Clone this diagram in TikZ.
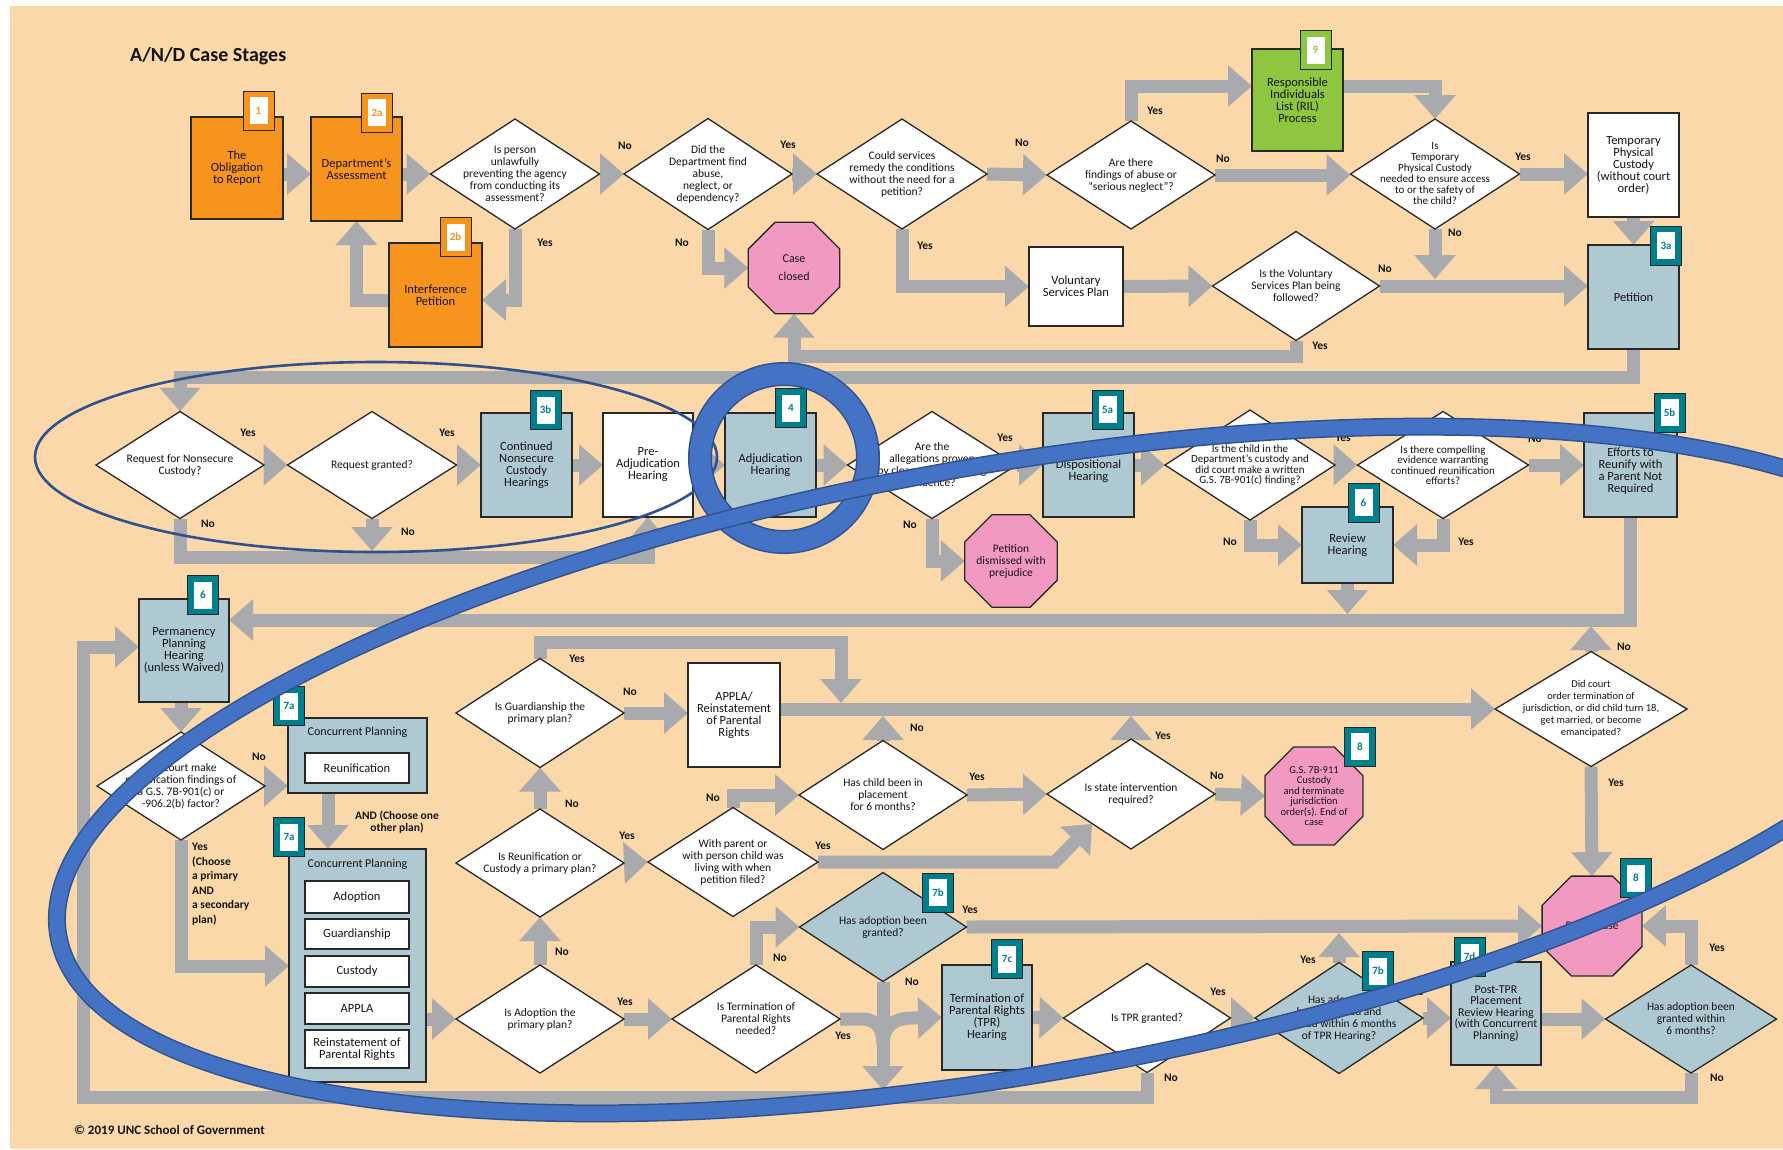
\documentclass[tikz,border=0pt]{standalone}
\usepackage{fontspec}
\setmainfont{Carlito}
\usetikzlibrary{shapes.geometric,arrows.meta}

\definecolor{beige}{RGB}{250,216,170}
\definecolor{pipegray}{RGB}{168,170,173}
\definecolor{orng}{RGB}{247,148,30}
\definecolor{grn}{RGB}{141,198,63}
\definecolor{bgray}{RGB}{175,201,211}
\definecolor{pnk}{RGB}{241,153,193}
\definecolor{tealtag}{RGB}{0,128,140}
\definecolor{ovblue}{RGB}{68,114,196}
\definecolor{ovdark}{RGB}{47,82,143}
\definecolor{edge}{RGB}{40,40,40}
\definecolor{ink}{RGB}{20,20,20}

\pgfdeclarelayer{back}
\pgfdeclarelayer{pipes}
\pgfdeclarelayer{front}
\pgfsetlayers{back,pipes,main,front}

\tikzset{
  box/.style={draw=edge, line width=1.3pt, inner sep=0pt, outer sep=0pt, align=center,
    text=ink, font=\fontsize{12.5}{12}\selectfont},
  dmd/.style={diamond, draw=edge, line width=1.3pt, inner sep=0pt, outer sep=0pt},
  dtext/.style={align=center, inner sep=0pt, text=ink, font=\fontsize{11.5}{12}\selectfont},
  oct/.style={regular polygon, regular polygon sides=8, draw=edge, line width=1.3pt,
    fill=pnk, inner sep=0pt, outer sep=0pt},
  tagbox/.style={draw=edge, line width=1pt, minimum width=31pt, minimum height=39pt, inner sep=0pt},
  tagin/.style={fill=white, minimum width=18pt, minimum height=27pt, inner sep=0pt,
    font=\bfseries\fontsize{11}{11}\selectfont},
  lbl/.style={inner sep=0pt, text=ink, font=\bfseries\fontsize{11.5}{12}\selectfont},
  pipe/.style={draw=pipegray, line width=13pt},
  flow/.style={pipe, -{Triangle[width=40pt,length=24pt]}},
}

% rectangle: [opts]{name}{x}{y}{w}{h}{fill}{text}
\newcommand{\Bx}[8][]{\node[box,fill=#7,minimum width=#5pt,minimum height=#6pt,#1] (#2) at (#3,#4) {#8};}
% decision: [opts]{name}{x}{y}{w}{h}{fill}{text}
\newcommand{\Dm}[8][]{%
  \node[dmd,fill=#7,minimum width=#5pt,minimum height=#6pt] (#2) at (#3,#4) {};
  \node[dtext,#1] (#2t) at (#2.center) {#8};}
% stop sign: [opts]{name}{x}{y}{size}{text}
\newcommand{\Oc}[6][]{%
  \node[oct,minimum size=#5pt] (#2) at (#3,#4) {};
  \node[dtext,#1] (#2t) at (#2.center) {#6};}
% chapter tag: {name}{x}{y}{colour}{number}
\newcommand{\Tg}[5]{%
  \node[tagbox,fill=#4] (#1) at (#2,#3) {};
  \node[tagin,text=#4] (#1n) at (#1.center) {#5};}

\begin{document}
\begin{tikzpicture}[x=1pt,y=-1pt]
\useasboundingbox (0,0) rectangle (1783,1149);
\begin{pgfonlayer}{back}
  \fill[white] (0,0) rectangle (1783,1149);
  \fill[beige] (10,6) rectangle (1783,1149);
\end{pgfonlayer}

\node[anchor=west, inner sep=0pt, text=ink, font=\bfseries\fontsize{20}{22}\selectfont] (title) at (130,56) {A/N/D Case Stages};
\node[anchor=west, inner sep=0pt, text=ink, font=\bfseries\fontsize{13}{14}\selectfont] (copy) at (74,1130) {© 2019 UNC School of Government};

% ---------- boxes ----------
\Bx{n1}{237}{168}{92}{102}{orng}{The\\Obligation\\to Report}
\Bx{n2a}{356.5}{169}{91}{104}{orng}{Department's\\Assessment}
\Bx{n2b}{435.5}{295}{93}{104}{orng}{Interference\\Petition}
\Bx{n9}{1297.5}{100}{91}{102}{grn}{Responsible\\Individuals\\List (RIL)\\Process}
\Bx{ntpc}{1633.5}{165}{91}{104}{white}{Temporary\\Physical\\Custody\\(without court\\order)}
\Bx{nvsp}{1076}{286.5}{94}{79}{white}{Voluntary\\Services Plan}
\Bx{npet}{1633.5}{297}{91}{104}{bgray}{Petition}
\Bx{n3b}{526.5}{465}{91}{104}{bgray}{Continued\\Nonsecure\\Custody\\Hearings}
\Bx{npre}{648}{465}{90}{104}{white}{Pre-\\Adjudication\\Hearing}
\Bx{nadj}{770.5}{465}{91}{104}{bgray}{Adjudication\\Hearing}
\Bx{n5a}{1088.5}{465}{91}{104}{bgray}{Initial\\Dispositional\\Hearing}
\Bx{n5b}{1630.5}{465}{93}{104}{bgray}{Reasonable\\Efforts to\\Reunify with\\a Parent Not\\Required}
\Bx{nrev}{1347.5}{545}{91}{76}{bgray}{Review\\Hearing}
\Bx{n6}{184}{650.5}{90}{103}{bgray}{Permanency\\Planning\\Hearing\\(unless Waived)}
\Bx{napp}{734}{715}{92}{104}{white}{APPLA/\\Reinstatement\\of Parental\\Rights}
\Bx{n7c}{987}{1017.5}{90}{105}{bgray}{Termination of\\Parental Rights\\(TPR)\\Hearing}
\Bx[font=\fontsize{12}{11.5}\selectfont]{npost}{1496}{1013.5}{90}{103}{bgray}{Post-TPR\\Placement\\Review Hearing\\(with Concurrent\\Planning)}

% concurrent planning panels
\Bx{ncp1}{357.5}{755.5}{139}{75}{bgray}{}
\node[dtext, font=\fontsize{12}{12}\selectfont] (ncp1t) at (357.5,732) {Concurrent Planning};
\Bx{reun}{357}{768}{104}{30}{white}{Reunification}
\Bx{ncp2}{357.5}{965.5}{137}{233}{bgray}{}
\node[dtext, font=\fontsize{12}{12}\selectfont] (ncp2t) at (357.5,864) {Concurrent Planning};
\Bx{adop}{357}{897}{104}{32}{white}{Adoption}
\Bx{guard}{357}{934}{104}{30}{white}{Guardianship}
\Bx{cust}{357}{971.5}{104}{31}{white}{Custody}
\Bx{appla}{357}{1008.5}{104}{31}{white}{APPLA}
\Bx{reinst}{357}{1049}{104}{38}{white}{Reinstatement of\\Parental Rights}

% ---------- decisions ----------
\Dm{d1}{515}{174}{169}{110}{white}{Is person\\unlawfully\\preventing the agency\\from conducting its\\assessment?}
\Dm{d2}{708}{174}{168}{111}{white}{Did the\\Department find\\abuse,\\neglect, or\\dependency?}
\Dm{d3}{902}{174}{170}{110}{white}{Could services\\remedy the conditions\\without the need for a\\petition?}
\Dm{d4}{1131}{175}{168}{108}{white}{Are there\\findings of abuse or\\``serious neglect''?}
\Dm[font=\fontsize{11}{11}\selectfont]{d5}{1435}{174}{169}{110}{white}{Is\\Temporary\\Physical Custody\\needed to ensure access\\to or the safety of\\the child?}
\Dm{d6}{1296}{286}{167}{109}{white}{Is the Voluntary\\Services Plan being\\followed?}
\Dm{d7}{180}{465}{168}{107}{white}{Request for Nonsecure\\Custody?}
\Dm{d8}{372}{465}{169}{107}{white}{Request granted?}
\Dm{d10}{932}{465}{169}{107}{white}{Are the\\allegations proven\\by clear and convincing\\evidence?}
\Dm[font=\fontsize{11}{10.5}\selectfont]{d11}{1250}{465}{170}{110}{white}{Is the child in the\\Department's custody and\\did court make a written\\G.S. 7B-901(c) finding?}
\Dm[font=\fontsize{11}{10.5}\selectfont]{d12}{1443}{465}{171}{107}{white}{Is there compelling\\evidence warranting\\continued reunification\\efforts?}
\Dm[font=\fontsize{10.5}{12}\selectfont]{d13}{1591}{709}{192}{115}{white}{Did court\\order termination of\\jurisdiction, or did child turn 18,\\get married, or become\\emancipated?}
\Dm{d9}{181}{786}{168}{108}{white}{Did court make\\reunification findings of\\a G.S. 7B-901(c) or\\-906.2(b) factor?}
\Dm{d14}{540}{713}{168}{109}{white}{Is Guardianship the\\primary plan?}
\Dm{d15}{883}{795}{168}{109}{white}{Has child been in\\placement\\for 6 months?}
\Dm{d16}{1131}{794}{168}{110}{white}{Is state intervention\\required?}
\Dm{d17}{540}{863}{168}{108}{white}{Is Reunification or\\Custody a primary plan?}
\Dm{d18}{733}{862}{170}{109}{white}{With parent or\\with person child was\\living with when\\petition filed?}
\Dm{d19}{540}{1019}{168}{108}{white}{Is Adoption the\\primary plan?}
\Dm{d20}{756}{1019}{168}{108}{white}{Is Termination of\\Parental Rights\\needed?}
\Dm{d21}{883}{927}{167}{109}{bgray}{Has adoption been\\granted?}
\Dm{d23}{1147}{1018}{167}{109}{white}{Is TPR granted?}
\Dm{d24}{1339}{1018}{168}{111}{bgray}{Has adoption\\been initiated and\\granted within 6 months\\of TPR Hearing?}
\Dm{d25}{1691}{1019}{171}{108}{bgray}{Has adoption been\\granted within\\6 months?}

% ---------- end points ----------
\Oc[font=\fontsize{12}{18}\selectfont]{oclosed}{794}{268}{99}{Case\\closed}
\Oc{odism}{1011}{561}{100}{Petition\\dismissed with\\prejudice}
\Oc[font=\fontsize{10.5}{10.5}\selectfont]{o911}{1314}{796}{106}{G.S. 7B-911\\Custody\\and terminate\\jurisdiction\\order(s). End of\\case}
\Oc{oend}{1592}{926}{108}{End of case}

% ---------- chapter tags ----------
\Tg{t1}{258.5}{110.5}{orng}{1}
\Tg{t2a}{377}{112.5}{orng}{2a}
\Tg{t2b}{455.5}{237}{orng}{2b}
\Tg{t9}{1315.5}{50}{grn}{9}
\Tg{t3a}{1666}{245.5}{tealtag}{3a}
\Tg{t3b}{545.5}{410}{tealtag}{3b}
\Tg{t4}{791}{408}{tealtag}{4}
\Tg{t5a}{1107.5}{409.5}{tealtag}{5a}
\Tg{t5b}{1669.5}{412.5}{tealtag}{5b}
\Tg{t6r}{1363.5}{502.5}{tealtag}{6}
\Tg{t6}{203}{595}{tealtag}{6}
\Tg{t7a1}{289}{706}{tealtag}{7a}
\Tg{t7a2}{289}{837}{tealtag}{7a}
\Tg{t8}{1360}{746.5}{tealtag}{8}
\Tg{t7b1}{938}{892.5}{tealtag}{7b}
\Tg{t7c}{1007}{959}{tealtag}{7c}
\Tg{t7b2}{1378}{971}{tealtag}{7b}
\Tg{t7d}{1469.5}{957}{tealtag}{7d}
\Tg{tend}{1636}{878}{tealtag}{8}

% free ends of connectors
\coordinate (jA) at (841,703);
\coordinate (jB) at (1092,824);
\coordinate (jC) at (883,1045);
\coordinate (jD) at (83,1097);

% ---------- connectors ----------
\begin{pgfonlayer}{pipes}
\draw[flow] (n1.east|-d1) -- (n2a.west|-d1);
\draw[flow] (n2a.east|-d1) -- (d1.west);
\draw[flow] (d1.east) -- (d2.west);
\draw[flow] (d1.south) -- (d1.south|-0,300) -- (n2b.east|-0,300);
\draw[flow] (n2b.west|-0,300) -| (n2a.south);
\draw[flow] (d2.east) -- (d3.west);
\draw[flow] (d2.south) |- (oclosed.west);
\draw[flow] (d3.east) -- (d4.west);
\draw[flow] (d3.south) |- (nvsp.west);
\draw[flow] (d4.north) |- (n9.west|-0,86);
\draw[flow] (d4.east) -- (d5.west|-d4);
\draw[flow] (n9.east|-0,86) -| (d5.north);
\draw[flow] (d5.east) -- (ntpc.west|-d5);
\draw[flow] (ntpc.south) -- (npet.north);
\draw[flow] (nvsp.east) -- (d6.west);
\draw[flow] (d6.east) -- (npet.west|-d6);
\draw[flow] (d5.south) -- (d5.south|-0,279);
\draw[flow] (d6.south) -- (d6.south|-0,356) -| (oclosed.south);
\draw[flow] (npet.south) -- (npet.south|-0,377) -| (d7.north);
\draw[flow] (d7.east) -- (d8.west);
\draw[flow] (d8.east) -- (n3b.west|-d8);
\draw[flow] (n3b.east) -- (npre.west);
\draw[flow] (npre.east) -- (nadj.west);
\draw[flow] (nadj.east) -- (d10.west);
\draw[flow] (d7.south) -- (d7.south|-0,557) -| (npre.south);
\draw[flow] (d8.south) -- (d8.south|-0,551);
\draw[flow] (d10.east) -- (n5a.west);
\draw[flow] (d10.south) |- (odism.west);
\draw[flow] (n5a.east) -- (d11.west);
\draw[flow] (d11.east) -- (d12.west);
\draw[flow] (d11.south) |- (nrev.west);
\draw[flow] (d12.east) -- (n5b.west);
\draw[flow] (d12.south) |- (nrev.east);
\draw[flow] (n5b.south) -- (n5b.south|-0,620) -- (n6.east|-0,620);
\draw[flow] (nrev.south) -- (nrev.south|-0,614);
\draw[flow] (d13.north) -- (d13.north|-0,626);
\draw[flow] (d9.north|-n6.south) -- (d9.north);
\draw[flow] (d9.east) -- (ncp1.west|-d9);
\draw[flow] (d9.south) |- (ncp2.west|-0,966);
\draw[flow] (ncp1.south-|328,0) -- (ncp2.north-|328,0);
\draw[flow] (ncp2.east|-d19) -- (d19.west);
\draw[flow] (d19.north) -- (d17.south);
\draw[flow] (d17.north) -- (d14.south);
\draw[flow] (d19.east) -- (d20.west);
\draw[flow] (d17.east) -- (d18.west);
\draw[flow] (d14.east) -- (napp.west|-d14);
\draw[flow] (d14.north) -- (d14.north|-0,642) -| (jA);
\draw[flow] (napp.east|-d13) -- (d13.west);
\draw[flow] (d15.north) -- (d15.north|-0,716);
\draw[flow] (d16.north) -- (d16.north|-0,716);
\draw[flow] (d18.north) |- (d15.west);
\draw[flow] (d15.east) -- (d16.west);
\draw[flow] (d16.east) -- (o911.west);
\draw[flow] (d18.east) -- (1055,862) -- (jB);
\draw[flow] (d20.north) |- (d21.west);
\draw[flow] (d21.east) -- (oend.west);
\draw[flow] (d21.south) -- (d21.south|-0,1090);
\draw[pipe] (d20.east) -- (862,1019) .. controls (876,1019) and (883,1028) .. (jC);
\draw[flow] (jC) .. controls (883,1027) and (893,1018) .. (912,1018) -- (n7c.west);
\draw[flow] (n7c.east) -- (d23.west);
\draw[flow] (d23.south) |- (jD) -- (jD|-0,647) -- (n6.west|-0,647);
\draw[flow] (d23.east) -- (d24.west);
\draw[flow] (d24.north) -- (d24.north|-0,933);
\draw[flow] (d24.east) -- (npost.west|-d24);
\draw[flow] (npost.east|-d25) -- (d25.west);
\draw[flow] (d25.north) |- (oend.east);
\draw[flow] (d25.south) -- (d25.south|-0,1097) -| (npost.south);
\draw[flow] (d13.south) -- (oend.north);
\end{pgfonlayer}

% ---------- branch labels ----------
\node[lbl] (l01) at (625,146) {No};
\node[lbl] (l02) at (545,243) {Yes};
\node[lbl] (l03) at (788,145) {Yes};
\node[lbl] (l04) at (682,243) {No};
\node[lbl] (l05) at (1022,143) {No};
\node[lbl] (l06) at (925,246) {Yes};
\node[lbl] (l07) at (1155,111) {Yes};
\node[lbl] (l08) at (1223,159) {No};
\node[lbl] (l09) at (1523,157) {Yes};
\node[lbl] (l10) at (1455,233) {No};
\node[lbl] (l11) at (1385,269) {No};
\node[lbl] (l12) at (1320,346) {Yes};
\node[lbl] (l13) at (248,433) {Yes};
\node[lbl] (l14) at (447,433) {Yes};
\node[lbl] (l15) at (208,524) {No};
\node[lbl] (l16) at (408,532) {No};
\node[lbl] (l17) at (1005,438) {Yes};
\node[lbl] (l18) at (910,525) {No};
\node[lbl] (l19) at (1343,438) {Yes};
\node[lbl] (l20) at (1230,542) {No};
\node[lbl] (l21) at (1535,439) {No};
\node[lbl] (l22) at (1466,542) {Yes};
\node[lbl] (l23) at (1624,647) {No};
\node[lbl] (l24) at (259,757) {No};
\node[lbl] (l25) at (577,659) {Yes};
\node[lbl] (l26) at (630,692) {No};
\node[lbl] (l27) at (917,728) {No};
\node[lbl] (l28) at (1163,736) {Yes};
\node[lbl] (l29) at (572,804) {No};
\node[lbl] (l30) at (713,798) {No};
\node[lbl] (l31) at (977,777) {Yes};
\node[lbl] (l32) at (1217,776) {No};
\node[lbl] (l33) at (627,836) {Yes};
\node[lbl] (l34) at (823,846) {Yes};
\node[lbl] (l35) at (562,952) {No};
\node[lbl] (l36) at (625,1002) {Yes};
\node[lbl] (l37) at (780,958) {No};
\node[lbl] (l38) at (970,910) {Yes};
\node[lbl] (l39) at (912,982) {No};
\node[lbl] (l40) at (843,1036) {Yes};
\node[lbl] (l41) at (1218,992) {Yes};
\node[lbl] (l42) at (1171,1078) {No};
\node[lbl] (l43) at (1308,960) {Yes};
\node[lbl] (l44) at (1417,992) {No};
\node[lbl] (l45) at (1717,948) {Yes};
\node[lbl] (l46) at (1717,1078) {No};
\node[lbl] (l47) at (1616,783) {Yes};
\node[lbl, anchor=north west, align=left, font=\bfseries\fontsize{11.5}{14.5}\selectfont] (l48) at (192,843) {Yes\\(Choose\\a primary\\AND\\a secondary\\plan)};
\node[lbl, align=center, font=\bfseries\fontsize{11.5}{11.5}\selectfont] (l49) at (397,822) {AND (Choose one\\other plan)};

% ---------- highlight marks ----------
\begin{pgfonlayer}{front}
\begin{scope}
  \clip (0,0) rectangle (1783,1149);
  \draw[ovdark, line width=2.6pt] (376,457) ellipse [x radius=341pt, y radius=95pt];
  \draw[ovdark, line width=24pt] (784,458) circle [radius=84pt];
  \draw[ovblue, line width=21pt] (784,458) circle [radius=84pt];
  \draw[ovdark, line width=18pt, rotate around={9.9:(1010,770)}] (1010,770) ellipse [x radius=966pt, y radius=305pt];
  \draw[ovblue, line width=15pt, rotate around={9.9:(1010,770)}] (1010,770) ellipse [x radius=966pt, y radius=305pt];
\end{scope}
\end{pgfonlayer}
\end{tikzpicture}
\end{document}
